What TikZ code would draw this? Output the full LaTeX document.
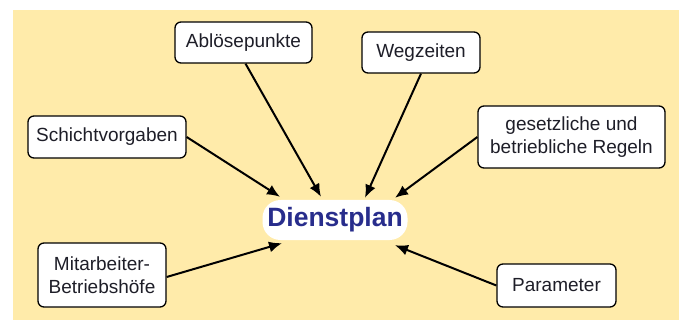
\documentclass[tikz,border=0pt]{standalone}
\usepackage{fontspec}
\setmainfont{Liberation Sans}
\usetikzlibrary{arrows.meta}
\definecolor{bgyellow}{RGB}{255,235,170}
\definecolor{dpblue}{RGB}{40,45,140}
\definecolor{boxtext}{RGB}{30,30,40}
\tikzset{
  infobox/.style={draw=black, line width=1.3pt, fill=white, rounded corners=6pt,
    inner sep=0pt, align=center, text=boxtext,
    font=\fontsize{19}{23}\selectfont},
  centerbox/.style={fill=white, rounded corners=18pt, inner sep=0pt,
    minimum width=145pt, minimum height=40pt, text=dpblue,
    font=\fontsize{26.5}{30}\selectfont\bfseries},
  arr/.style={draw=black, line width=2pt, -{Latex[length=13pt,width=11pt]}}
}
\begin{document}
\begin{tikzpicture}[x=1pt,y=-1pt]
\useasboundingbox (0,0) rectangle (679,320);
\fill[bgyellow] (13,10) rectangle (679,320);
\node[centerbox] (dp) at (335,220) {Dienstplan};
\node[infobox, minimum width=137pt, minimum height=41pt] (ablo) at (243.5,42.5) {Ablösepunkte};
\node[infobox, minimum width=118pt, minimum height=41pt] (weg) at (421,52.5) {Wegzeiten};
\node[infobox, minimum width=158pt, minimum height=42pt] (schicht) at (107,137) {Schichtvorgaben};
\node[infobox, minimum width=187pt, minimum height=62pt] (ges) at (571.5,137) {gesetzliche und\\betriebliche Regeln};
\node[infobox, minimum width=128pt, minimum height=64pt] (mit) at (102,275) {Mitarbeiter-\\Betriebshöfe};
\node[infobox, minimum width=119pt, minimum height=43pt] (par) at (556.5,285.5) {Parameter};
\draw[arr] (schicht.east) -- ([xshift=-55pt,yshift=3pt]dp.north);
\draw[arr] ([xshift=2pt]ablo.south) -- ([xshift=-14pt,yshift=3pt]dp.north);
\draw[arr] (weg.south) -- ([xshift=30pt,yshift=2pt]dp.north);
\draw[arr] (ges.west) -- ([xshift=60pt,yshift=2pt]dp.north);
\draw[arr] ([yshift=-2pt]mit.east) -- ([xshift=-53pt,yshift=-3pt]dp.south);
\draw[arr] (par.west) -- ([xshift=60pt,yshift=-5pt]dp.south);
\end{tikzpicture}
\end{document}
